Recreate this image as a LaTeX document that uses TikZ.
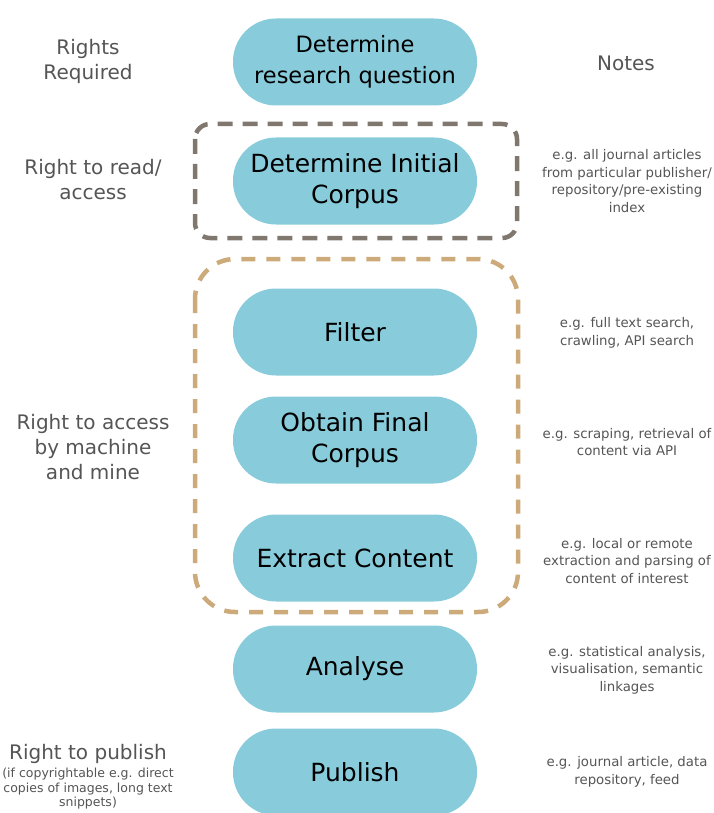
\documentclass[tikz,border=0pt]{standalone}
\usepackage{fontspec}
\setmainfont{DejaVu Sans}
\usetikzlibrary{positioning}
\definecolor{pill}{RGB}{136,204,220}
\definecolor{boxgray}{RGB}{128,119,110}
\definecolor{boxtan}{RGB}{204,170,122}
\definecolor{labelgray}{RGB}{85,85,85}

\begin{document}
\begin{tikzpicture}[x=1pt,y=-1pt,
    step box/.style={fill=pill, draw=none, rounded corners=43pt,
      minimum width=244pt, minimum height=87pt, align=center,
      font=\fontsize{25}{31}\selectfont},
    rights/.style={text=labelgray, align=center,
      font=\fontsize{20}{25}\selectfont},
    note/.style={text=labelgray, align=center,
      font=\fontsize{13.3}{17.5}\selectfont}]
  \useasboundingbox (0,0) rectangle (714,813);
  % steps
  \node[step box, font=\fontsize{22.5}{31}\selectfont] (question) at (355,62) {Determine\\research question};
  \node[step box] (initial) at (355,181) {Determine Initial\\Corpus};
  \node[step box] (filter) at (355,332) {Filter};
  \node[step box] (final) at (355,440) {Obtain Final\\Corpus};
  \node[step box] (extract) at (355,558) {Extract Content};
  \node[step box] (analyse) at (355,669) {Analyse};
  \node[step box] (publish) at (355,772) {Publish};
  % groups
  \draw[boxgray, line width=4.5pt, dash pattern=on 15pt off 10pt, rounded corners=15pt]
    (195,124) rectangle (517,238);
  \draw[boxtan, line width=4.5pt, dash pattern=on 14pt off 11pt, rounded corners=40pt]
    (195,259) rectangle (518,612);
  % rights
  \node[rights] (rightshead) at (88,61) {Rights\\Required};
  \node[rights] (readright) at (93,180) {Right to read/\\access};
  \node[rights] (mineright) at (93,447) {Right to access\\by machine\\and mine};
  \node[rights] (pubright) at (88,754) {Right to publish};
  \node[note, font=\fontsize{12.5}{14.8}\selectfont, below=-3pt of pubright] (pubnote)
    {(if copyrightable e.g. direct\\copies of images, long text\\snippets)};
  % notes
  \node[rights] (noteshead) at (626,63) {Notes};
  \node[note] (initialnote) at (627,181) {e.g. all journal articles\\from particular publisher/\\repository/pre-existing\\index};
  \node[note] (filternote) at (627,333) {e.g. full text search,\\crawling, API search};
  \node[note] (finalnote) at (627,442) {e.g. scraping, retrieval of\\content via API};
  \node[note] (extractnote) at (627,561) {e.g. local or remote\\extraction and parsing of\\content of interest};
  \node[note] (analysenote) at (627,670) {e.g. statistical analysis,\\visualisation, semantic\\linkages};
  \node[note] (publishnote) at (627,772) {e.g. journal article, data\\repository, feed};
\end{tikzpicture}
\end{document}
